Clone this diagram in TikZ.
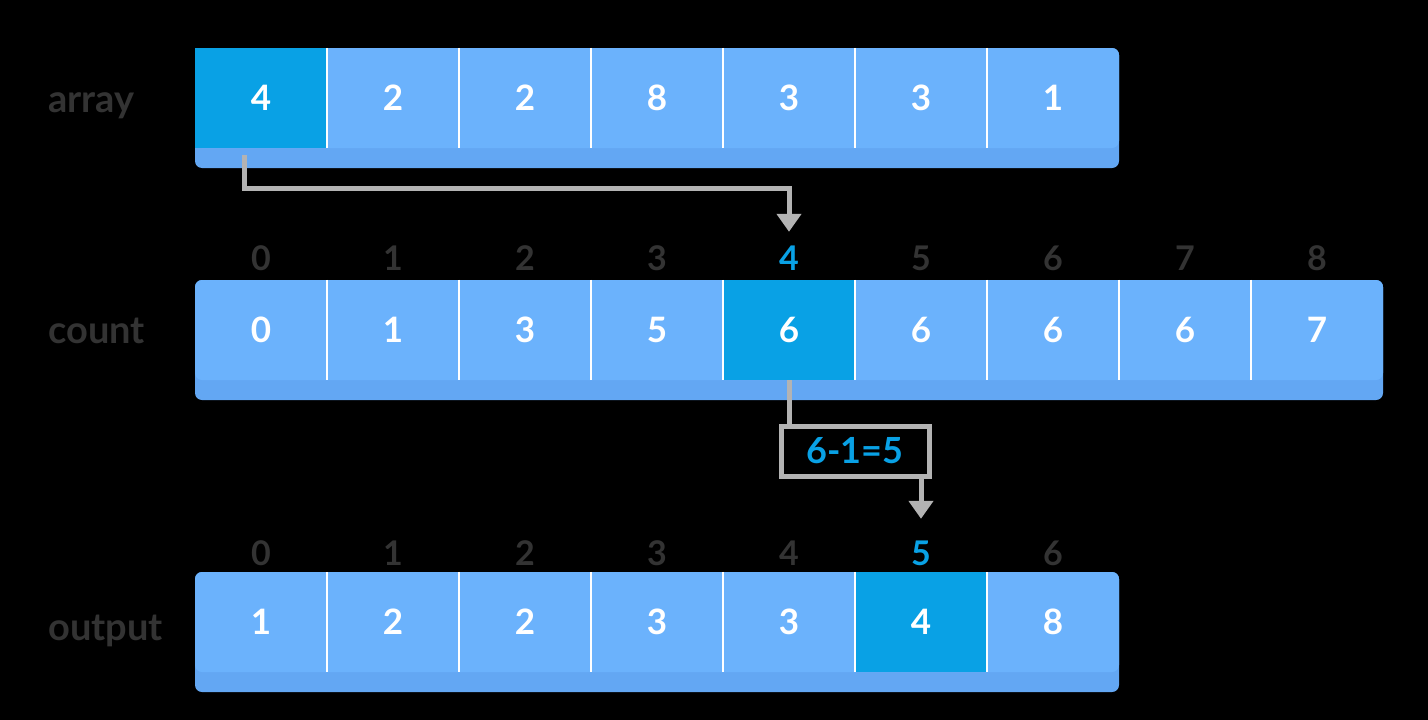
\documentclass[tikz,border=0pt]{standalone}
\usepackage{fontspec}
\setmainfont{Lato}
\usetikzlibrary{arrows.meta}
\definecolor{cellblue}{RGB}{107,178,252}
\definecolor{bandblue}{RGB}{99,167,243}
\definecolor{hiblue}{RGB}{9,161,229}
\definecolor{linegray}{RGB}{179,179,179}
\definecolor{labelgray}{RGB}{51,51,51}
\tikzset{
  cell/.style={minimum width=132pt, minimum height=100pt, inner sep=0pt, text=white, font=\bfseries\fontsize{35}{42}\selectfont},
  hicell/.style={cell, fill=hiblue},
  idx/.style={anchor=base, inner sep=0pt, text height=25pt, text depth=0pt, text=labelgray, font=\bfseries\fontsize{34}{40}\selectfont},
  hiidx/.style={idx, text=hiblue},
  rowlabel/.style={anchor=base west, inner sep=0pt, text=labelgray, font=\bfseries\fontsize{38}{44}\selectfont},
  divider/.style={white, line width=2.5pt},
  link/.style={linegray, line width=5pt},
  tip/.style={-{Triangle[width=24pt, length=18pt]}},
  eqbox/.style={draw=linegray, line width=5pt, minimum width=148pt, minimum height=50pt, inner sep=0pt, text=hiblue, font=\bfseries\fontsize{36}{42}\selectfont}
}
\begin{document}
\begin{tikzpicture}[x=1pt, y=-1pt]
  \fill[black] (0,0) rectangle (1428,720);
  \useasboundingbox (0,0) rectangle (1428,720);

  \foreach \t/\w in {48/924, 280/1188, 572/924} {
    \fill[bandblue, rounded corners=7pt] (195,\t) rectangle ++(\w,120);
    \fill[cellblue, rounded corners=7pt] (195,\t) rectangle ++(\w,100);
  }

  \node[rowlabel] (arraylabel) at (48,112) {array};
  \node[rowlabel] (countlabel) at (48,343) {count};
  \node[rowlabel] (outputlabel) at (48,640) {output};

  \foreach \v/\s [count=\k from 0] in {4/hicell, 2/cell, 2/cell, 8/cell, 3/cell, 3/cell, 1/cell}
    \node[\s] (a\k) at (261+132*\k,98) {\v};
  \foreach \v/\s [count=\k from 0] in {0/cell, 1/cell, 3/cell, 5/cell, 6/hicell, 6/cell, 6/cell, 6/cell, 7/cell}
    \node[\s] (c\k) at (261+132*\k,330) {\v};
  \foreach \v/\s [count=\k from 0] in {1/cell, 2/cell, 2/cell, 3/cell, 3/cell, 4/hicell, 8/cell}
    \node[\s] (o\k) at (261+132*\k,622) {\v};

  \foreach \k in {1,...,6} { \draw[divider] (a\k.north west) -- (a\k.south west); }
  \foreach \k in {1,...,8} { \draw[divider] (c\k.north west) -- (c\k.south west); }
  \foreach \k in {1,...,6} { \draw[divider] (o\k.north west) -- (o\k.south west); }

  \foreach \k/\s in {0/idx, 1/idx, 2/idx, 3/idx, 4/hiidx, 5/idx, 6/idx, 7/idx, 8/idx}
    \node[\s] (ci\k) at (261+132*\k,270) {\k};
  \foreach \k/\s in {0/idx, 1/idx, 2/idx, 3/idx, 4/idx, 5/hiidx, 6/idx}
    \node[\s] (oi\k) at (261+132*\k,565) {\k};

  \node[eqbox] (eq) at (855,451) {6-1=5};

  \draw[link, tip] ([xshift=-17pt, yshift=-7pt]a0.south) -- ++(0,33) -| ([yshift=13pt]ci4.north);
  \draw[link] (c4.south) -- (c4.south |- eq.north);
  \draw[link, tip] (eq.south -| oi5) -- ([yshift=21pt]oi5.north);
\end{tikzpicture}
\end{document}
